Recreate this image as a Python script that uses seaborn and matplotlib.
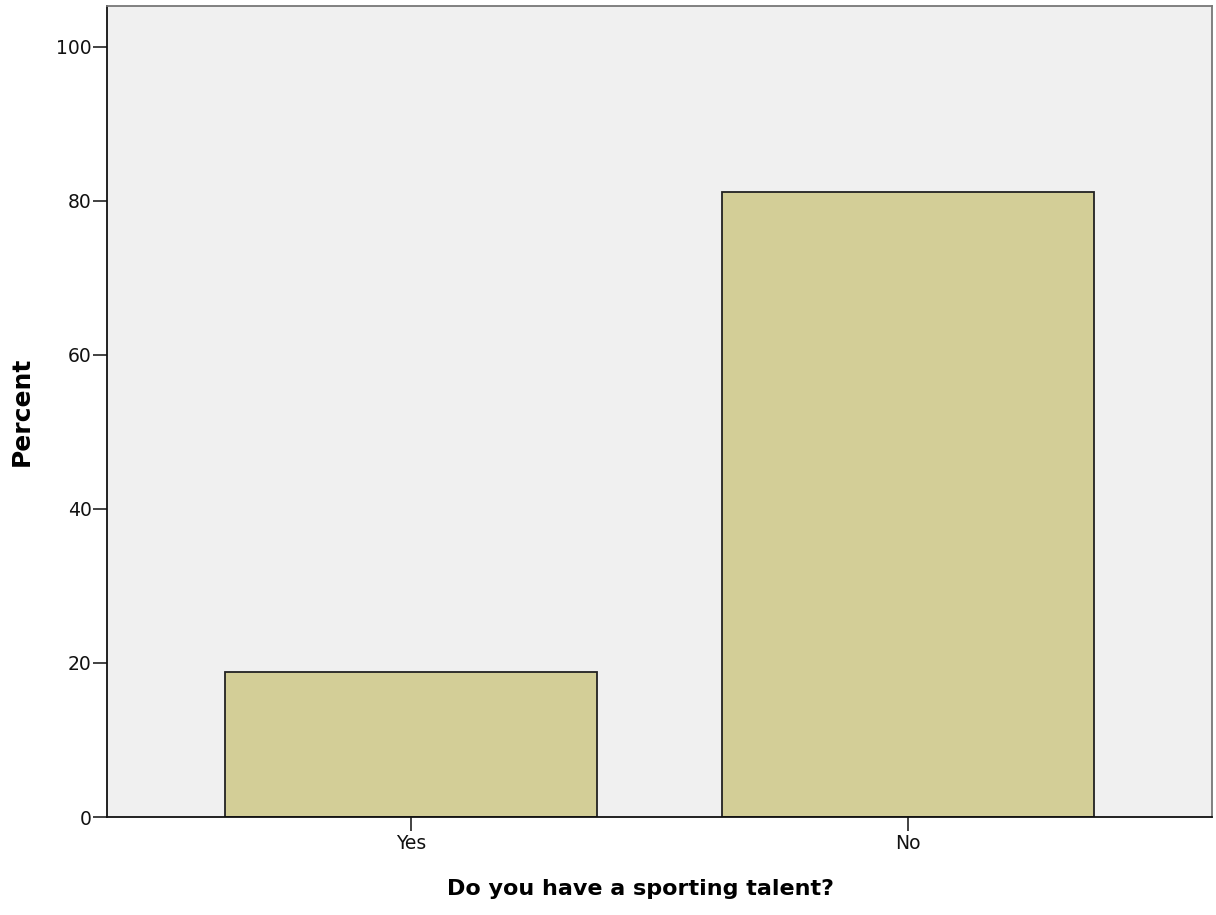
import matplotlib
matplotlib.use("Agg")
import matplotlib.pyplot as plt
import seaborn as sns
import pandas as pd

categories = ["Yes", "No"]
percent = [18.8, 81.2]

sns.set_style("white")
plt.rcParams['font.family'] = ['DejaVu Sans']

df = pd.DataFrame({"answer": categories, "percent": percent})

fig = plt.figure(figsize=(12.16, 9.15), dpi=100)
ax = fig.add_axes([0.088, 0.1071, 0.9087, 0.8863])
ax.set_facecolor("#F0F0F0")

sns.barplot(data=df, x="answer", y="percent", order=categories, color="#D3CE97",
            saturation=1, width=0.75, edgecolor="#222222", linewidth=1.3, ax=ax)

ax.set_xlim(-0.612, 1.612)
ax.set_ylim(0, 105.3)
ax.set_yticks([0, 20, 40, 60, 80, 100])
ax.tick_params(axis="both", direction="out", length=10, width=1.2, color="#222222",
               labelsize=13.5, labelcolor="#111111", left=True, bottom=True)
ax.tick_params(axis="y", pad=1)
ax.tick_params(axis="x", pad=2)

ax.set_ylabel("Percent", fontsize=18, fontweight="bold", color="#000000")
ax.set_xlabel("Do you have a sporting talent?", fontsize=16, fontweight="bold",
              color="#000000")
ax.yaxis.set_label_coords(-0.066, 0.5)
ax.xaxis.set_label_coords(0.483, -0.077)

for s in ["left", "bottom"]:
    ax.spines[s].set_color("#111111")
    ax.spines[s].set_linewidth(1.3)
for s in ["top", "right"]:
    ax.spines[s].set_color("#777777")
    ax.spines[s].set_linewidth(1.3)
    ax.spines[s].set_visible(True)

fig.savefig("out.png", dpi=100)
